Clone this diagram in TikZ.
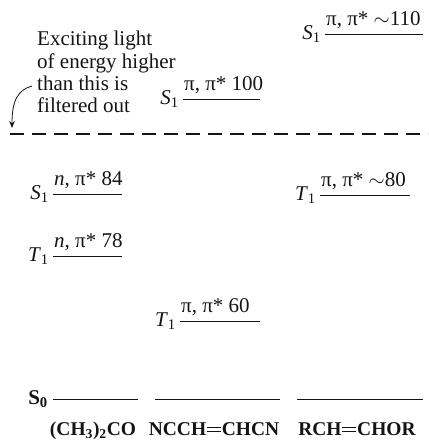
\documentclass[tikz,border=0pt]{standalone}
\usepackage{fontspec}
\setmainfont{Liberation Serif}
\usepackage{xcolor}
\usepackage{tikz}
\usetikzlibrary{
  arrows.meta,
  positioning
}
\definecolor{inkdark}{RGB}{20, 20, 20}
\newcommand{\dblbond}{\kern0.04em\rlap{\raisebox{0.16em}{\rule{0.72em}{0.06em}}}\raisebox{0.34em}{\rule{0.72em}{0.06em}}\kern0.04em}

\begin{document}
\begin{tikzpicture}[x=1pt, y=-1pt,
  every node/.style={inner sep=0pt, text=inkdark, font=\fontsize{21}{22.3}\selectfont},
  level/.style={draw=inkdark, line width=0.9pt},
  lvllbl/.style={anchor=south west},
  statenm/.style={anchor=east},
  cutoff/.style={draw=inkdark, line width=1.1pt, dash pattern=on 14pt off 8pt},
  molname/.style={anchor=base, font=\fontsize{19.5}{22}\selectfont\bfseries}]
  \useasboundingbox (0,0) rectangle (428,441);
  % acetone
  \coordinate (acS1w) at (53,194);  \coordinate (acS1e) at (122,194);
  \coordinate (acT1w) at (53,256);  \coordinate (acT1e) at (122,256);
  \coordinate (acS0w) at (53,399);  \coordinate (acS0e) at (138,399);
  % fumaronitrile
  \coordinate (fuS1w) at (183,99);  \coordinate (fuS1e) at (260,99);
  \coordinate (fuT1w) at (180,321); \coordinate (fuT1e) at (260,321);
  \coordinate (fuS0w) at (155,399); \coordinate (fuS0e) at (280,399);
  % vinyl ether
  \coordinate (veS1w) at (325,34);  \coordinate (veS1e) at (423,34);
  \coordinate (veT1w) at (320,195); \coordinate (veT1e) at (410,195);
  \coordinate (veS0w) at (297,399); \coordinate (veS0e) at (423,399);
  \foreach \lv in {acS1, acT1, acS0, fuS1, fuT1, fuS0, veS1, veT1, veS0} {
    \draw[level] (\lv w) -- (\lv e);
  }
  \node[lvllbl, above right=5pt and 1pt of acS1w] (acS1lbl) {\textit{n}, π* 84};
  \node[lvllbl, above right=5pt and 1pt of acT1w] (acT1lbl) {\textit{n}, π* 78};
  \node[lvllbl, above right=5pt and 1pt of fuS1w] (fuS1lbl) {π, π* 100};
  \node[lvllbl, above right=5pt and 1pt of fuT1w] (fuT1lbl) {π, π* 60};
  \node[lvllbl, above right=5pt and 1pt of veS1w] (veS1lbl) {π, π* $\sim$110};
  \node[lvllbl, above right=5pt and 1pt of veT1w] (veT1lbl) {π, π* $\sim$80};
  \node[statenm, left=4pt of acS1w] (acS1nm) {\textit{S}\textsubscript{1}};
  \node[statenm, left=4pt of acT1w] (acT1nm) {\textit{T}\textsubscript{1}};
  \node[statenm, left=4pt of fuS1w] (fuS1nm) {\textit{S}\textsubscript{1}};
  \node[statenm, left=4pt of fuT1w] (fuT1nm) {\textit{T}\textsubscript{1}};
  \node[statenm, left=4pt of veS1w] (veS1nm) {\textit{S}\textsubscript{1}};
  \node[statenm, left=4pt of veT1w] (veT1nm) {\textit{T}\textsubscript{1}};
  \node[statenm, left=5pt of acS0w] (gsnm) {\textbf{S\textsubscript{0}}};
  \node[molname] (acmol) at (93,435) {(CH\textsubscript{3})\textsubscript{2}CO};
  \node[molname] (fumol) at (214,435) {NCCH\dblbond CHCN};
  \node[molname] (vemol) at (357,435) {RCH\dblbond CHOR};
  % filter cut-off
  \coordinate (cutw) at (10,134);
  \coordinate (cute) at (428,134);
  \draw[cutoff] (cutw) -- (cute);
  \node[anchor=north west, align=left] (filtnote) at (37,31)
    {Exciting light\\of energy higher\\than this is\\filtered out};
  \coordinate (curltop) at (32,86);
  \coordinate (curltip) at (12,128);
  \draw[-{Stealth[length=7pt, width=5.5pt]}, line width=0.8pt, inkdark]
    (curltop) .. controls (18,90) and (12,100) .. (curltip);
\end{tikzpicture}
\end{document}
